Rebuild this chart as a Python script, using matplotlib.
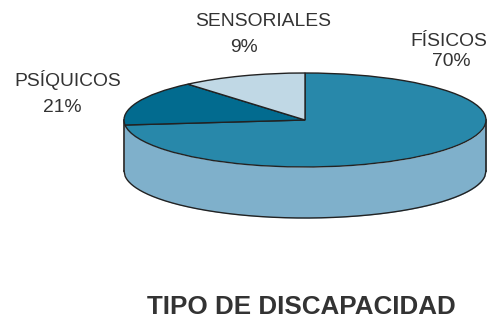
import numpy as np
import matplotlib
matplotlib.use("Agg")
import matplotlib.pyplot as plt

plt.rcParams['font.family'] = ['Liberation Sans', 'DejaVu Sans']

# porciones tal como se ven dibujadas (no coinciden con las etiquetas del original)
shares = [73.3, 15.5, 11.2]
colors = ['#2888aa', '#026b8f', '#c0d8e5']
names = ['FÍSICOS', 'PSÍQUICOS', 'SENSORIALES']
labels = ['70%', '21%', '9%']
title = 'TIPO DE DISCAPACIDAD'

W, H = 496, 324
cx, cy = 305, 120      # centro de la tapa en pixeles
rx, ry = 181, 47
depth = 51 / ry

fig = plt.figure(figsize=(W / 100, H / 100), dpi=100)
ax = fig.add_axes([0, 0, 1, 1])

# pared lateral
x = np.linspace(-1, 1, 300)
top = -np.sqrt(1 - x**2)
ax.fill_between(x, top, top - depth, color='#7fb0cb', lw=0, zorder=1)
ax.plot(x, top - depth, color='#222222', lw=1, zorder=2)
ax.plot([-1, -1], [0, -depth], color='#222222', lw=1.2, zorder=2)
ax.plot([1, 1], [0, -depth], color='#222222', lw=1.2, zorder=2)

ax.pie(shares, colors=colors, startangle=90, counterclock=False, radius=1,
       wedgeprops={'edgecolor': '#222222', 'linewidth': 1, 'zorder': 3})

ax.set_aspect('auto')
ax.set_xlim(-cx / rx, (W - cx) / rx)
ax.set_ylim(-(H - cy) / ry, cy / ry)
ax.axis('off')


def px(x_px, y_px):
    return (x_px - cx) / rx, (cy - y_px) / ry


txt = dict(ha='center', va='center', fontsize=13.9, color='#333333')
ax.text(*px(449, 41), names[0], **txt)
ax.text(*px(451, 62), labels[0], **txt)
ax.text(*px(68, 80), names[1], **txt)
ax.text(*px(62, 108), labels[1], **txt)
ax.text(*px(263, 22), names[2], **txt)
ax.text(*px(244, 48), labels[2], **txt)
ax.text(*px(301, 307), title, ha='center', va='center', fontsize=18.7,
        fontweight='bold', color='#333333')

fig.savefig('out.png', dpi=100)
